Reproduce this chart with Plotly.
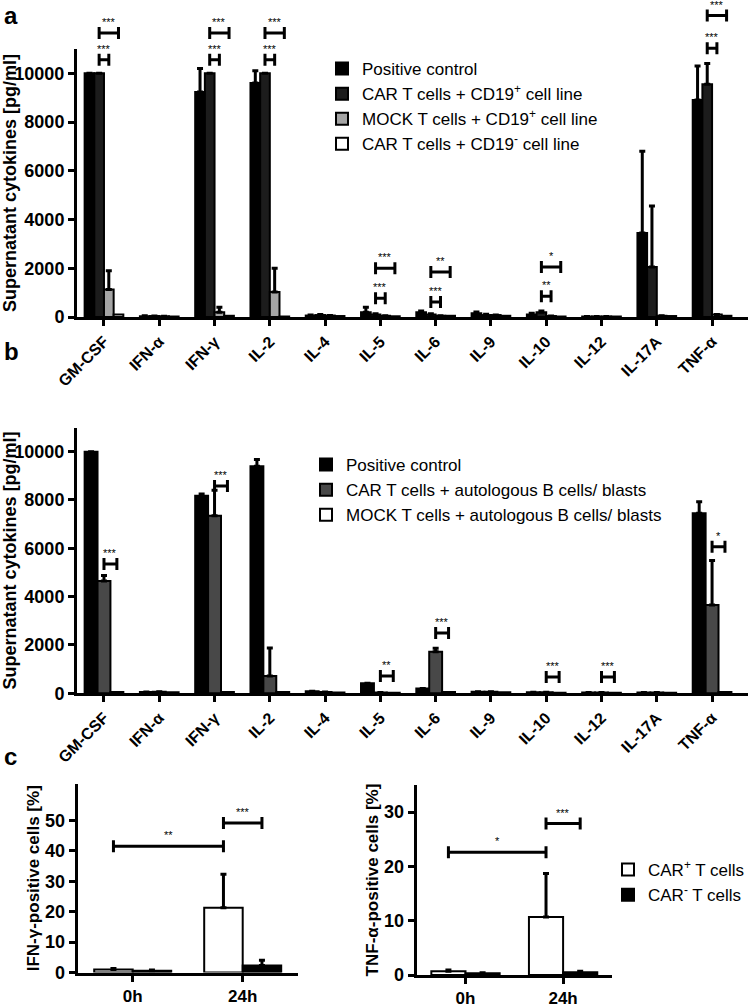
import plotly.graph_objects as go

W, H = 750, 1008
FONT = "Liberation Sans, Arial, sans-serif"

# ---------------- data ----------------
cytokines = ["GM-CSF", "IFN-α", "IFN-γ", "IL-2", "IL-4", "IL-5", "IL-6",
             "IL-9", "IL-10", "IL-12", "IL-17A", "TNF-α"]

# panel a
a_names = ["Positive control",
           "CAR T cells + CD19<sup>+</sup> cell line",
           "MOCK T cells + CD19<sup>+</sup> cell line",
           "CAR T cells + CD19<sup>-</sup> cell line"]
a_pos = [10000, 30, 9230, 9600, 60, 200, 200, 150, 100, 20, 3450, 8900]
a_pos_err = [None, 20, 970, 500, 20, 200, 50, 60, 50, None, 3350, 1400]
a_car = [10000, 40, 10000, 10000, 80, 100, 100, 80, 200, 20, 2050, 9550]
a_car_err = [None, None, None, None, 20, 30, 30, 30, 50, None, 2500, 850]
a_mock = [1130, 30, 200, 1030, 60, 50, 50, 80, 40, 20, 50, 100]
a_mock_err = [770, None, 200, 970, None, None, None, None, None, None, None, None]
a_neg = [100, 20, 50, 20, 40, 30, 50, 50, 20, 20, 40, 50]

# panel b
b_names = ["Positive control",
           "CAR T cells + autologous B cells/ blasts",
           "MOCK T cells + autologous B cells/ blasts"]
b_pos = [10000, 50, 8180, 9400, 80, 420, 200, 60, 40, 30, 30, 7450]
b_pos_err = [None, None, 70, 280, None, None, None, None, None, None, None, 480]
b_car = [4650, 60, 7350, 720, 50, 30, 1720, 60, 40, 30, 30, 3650]
b_car_err = [230, None, 1050, 1150, None, None, 140, None, None, None, None, 1850]
b_mock = [50, 40, 50, 50, 30, 20, 50, 40, 20, 20, 20, 50]

# panel c
timepoints = ["0h", "24h"]
c_names = ["CAR<sup>+</sup> T cells", "CAR<sup>-</sup> T cells"]
ifng_pos = [1.0, 21.3]
ifng_pos_err = [0.3, 11.0]
ifng_neg = [0.6, 2.3]
ifng_neg_err = [0.2, 1.7]
tnfa_pos = [0.7, 10.7]
tnfa_pos_err = [0.2, 8.0]
tnfa_neg = [0.3, 0.5]
tnfa_neg_err = [0.1, 0.2]

# significance: (group, bar_i, bar_j, y, label)
sig_a = [(0, 1, 2, 10550, "***"), (0, 1, 3, 11650, "***"),
         (2, 1, 2, 10550, "***"), (2, 1, 3, 11650, "***"),
         (3, 1, 2, 10550, "***"), (3, 1, 3, 11650, "***"),
         (5, 1, 2, 770, "***"), (5, 1, 3, 2000, "***"),
         (6, 1, 2, 620, "***"), (6, 1, 3, 1850, "**"),
         (8, 1, 2, 850, "**"), (8, 1, 3, 2050, "*"),
         (11, 1, 2, 11030, "***"), (11, 1, 3, 12370, "***")]
sig_b = [(0, 1, 2, 5350, "***"), (2, 1, 2, 8580, "***"),
         (5, 1, 2, 720, "**"), (6, 1, 2, 2500, "***"),
         (8, 1, 2, 670, "***"), (9, 1, 2, 670, "***"),
         (11, 1, 2, 6070, "*")]
# (group_i, bar_i, group_j, bar_j, y, label)
sig_c1 = [(0, 0, 1, 0, 41.5, "**"), (1, 0, 1, 1, 49.2, "***")]
sig_c2 = [(0, 0, 1, 0, 22.6, "*"), (1, 0, 1, 1, 27.9, "***")]

# ---------------- layout geometry (pixels) ----------------
BARGAP = 0.3
SUB = {
    "a": dict(x0=77, x1=748, top=48.9, bot=317.0, xr=(-0.488, 11.65), yr=(0, 11000)),
    "b": dict(x0=77, x1=748, top=427.5, bot=693.3, xr=(-0.488, 11.65), yr=(0, 11000)),
    "c1": dict(x0=77.7, x1=297.7, top=784, bot=972.5, xr=(-0.5, 1.5), yr=(0, 62)),
    "c2": dict(x0=416.7, x1=611.9, top=785, bot=975, xr=(-0.5, 1.5), yr=(0, 35)),
}


def dx(s, x):
    sp = SUB[s]
    f = (x - sp["xr"][0]) / (sp["xr"][1] - sp["xr"][0])
    return (sp["x0"] + f * (sp["x1"] - sp["x0"])) / W


def dy(s, y):
    sp = SUB[s]
    f = (y - sp["yr"][0]) / (sp["yr"][1] - sp["yr"][0])
    return 1 - (sp["bot"] - f * (sp["bot"] - sp["top"])) / H


def bar_x(group, j, n):
    w = (1 - BARGAP) / n
    return group - (1 - BARGAP) / 2 + (j + 0.5) * w


fig = go.Figure()


def add_bar(x, y, err, name, color, xa, ya, legend, show=True):
    e = None
    if err is not None:
        e = dict(type="data", symmetric=False, array=err,
                 arrayminus=[0 if v is not None else None for v in err],
                 color="black", thickness=3, width=3, visible=True)
    fig.add_trace(go.Bar(
        x=x, y=y, name=name, xaxis=xa, yaxis=ya, legend=legend, showlegend=show,
        marker=dict(color=color, line=dict(color="black", width=2)),
        error_y=e))


xs = list(range(len(cytokines)))
add_bar(xs, a_pos, a_pos_err, a_names[0], "#000000", "x", "y", "legend")
add_bar(xs, a_car, a_car_err, a_names[1], "#1c1c1c", "x", "y", "legend")
add_bar(xs, a_mock, a_mock_err, a_names[2], "#a5a5a5", "x", "y", "legend")
add_bar(xs, a_neg, None, a_names[3], "#ffffff", "x", "y", "legend")

add_bar(xs, b_pos, b_pos_err, b_names[0], "#000000", "x2", "y2", "legend2")
add_bar(xs, b_car, b_car_err, b_names[1], "#484848", "x2", "y2", "legend2")
add_bar(xs, b_mock, None, b_names[2], "#ffffff", "x2", "y2", "legend2")

xt = [0, 1]
add_bar(xt, ifng_pos, ifng_pos_err, c_names[0], "#ffffff", "x3", "y3", "legend3")
add_bar(xt, ifng_neg, ifng_neg_err, c_names[1], "#000000", "x3", "y3", "legend3")
add_bar(xt, tnfa_pos, tnfa_pos_err, c_names[0], "#ffffff", "x4", "y4", "legend3", False)
add_bar(xt, tnfa_neg, tnfa_neg_err, c_names[1], "#000000", "x4", "y4", "legend3", False)

shapes, annos = [], []
CAP = 6 / H


def bracket(s, xa_d, xb_d, y_d, label):
    xa, xb, y = dx(s, xa_d), dx(s, xb_d), dy(s, y_d)
    path = (f"M{xa},{y - CAP} L{xa},{y + CAP} M{xa},{y} L{xb},{y} "
            f"M{xb},{y - CAP} L{xb},{y + CAP}")
    shapes.append(dict(type="path", xref="paper", yref="paper", path=path,
                       line=dict(color="black", width=3)))
    annos.append(dict(xref="paper", yref="paper", x=(xa + xb) / 2, y=y + 3 / H,
                      text=label, showarrow=False, xanchor="center", yanchor="bottom",
                      font=dict(family=FONT, size=11, color="black")))


for g, i, j, y, lab in sig_a:
    bracket("a", bar_x(g, i, 4), bar_x(g, j, 4), y, lab)
for g, i, j, y, lab in sig_b:
    bracket("b", bar_x(g, i, 3), bar_x(g, j, 3), y, lab)
for gi, bi, gj, bj, y, lab in sig_c1:
    bracket("c1", bar_x(gi, bi, 2), bar_x(gj, bj, 2), y, lab)
for gi, bi, gj, bj, y, lab in sig_c2:
    bracket("c2", bar_x(gi, bi, 2), bar_x(gj, bj, 2), y, lab)

for lab, px, py in [("a", 2, 0), ("b", 2, 336), ("c", 2, 741)]:
    annos.append(dict(xref="paper", yref="paper", x=px / W, y=1 - py / H, text=lab,
                      showarrow=False, xanchor="left", yanchor="top",
                      font=dict(family=FONT, size=24, color="black", weight="bold")))

AXLINE = dict(showline=True, linecolor="black", linewidth=3, ticks="outside",
              ticklen=6, tickwidth=3, tickcolor="black", showgrid=False,
              zeroline=False, fixedrange=True, automargin=False)


def xaxis(s, tickvals, ticktext, angle, size, anchor):
    sp = SUB[s]
    return dict(AXLINE, domain=[sp["x0"] / W, sp["x1"] / W], range=list(sp["xr"]),
                tickmode="array", tickvals=tickvals, ticktext=ticktext, tickangle=angle,
                tickfont=dict(family=FONT, size=size, color="black", weight="bold"),
                anchor=anchor)


def yaxis(s, tickvals, title, tsize, anchor):
    sp = SUB[s]
    return dict(AXLINE, domain=[1 - sp["bot"] / H, 1 - sp["top"] / H], range=list(sp["yr"]),
                tickmode="array", tickvals=tickvals, ticktext=[str(v) for v in tickvals],
                tickfont=dict(family=FONT, size=18, color="black", weight="bold"),
                title=dict(text=title, standoff=2,
                           font=dict(family=FONT, size=tsize, color="black", weight="bold")),
                anchor=anchor)


cyto_ticks = [0, 2000, 4000, 6000, 8000, 10000]
ifng_ticks = [0, 10, 20, 30, 40, 50]
tnfa_ticks = [0, 10, 20, 30]

LEG = dict(xanchor="left", yanchor="top", bgcolor="rgba(0,0,0,0)",
           font=dict(family=FONT, size=17, color="black"), tracegroupgap=0)

fig.update_layout(
    width=W, height=H, autosize=False,
    margin=dict(l=0, r=0, t=0, b=0, autoexpand=False),
    paper_bgcolor="white", plot_bgcolor="white",
    barmode="group", bargap=BARGAP, bargroupgap=0,
    font=dict(family=FONT, color="black"),
    xaxis=xaxis("a", xs, cytokines, -45, 16, "y"),
    yaxis=yaxis("a", cyto_ticks, "Supernatant cytokines [pg/ml]", 18, "x"),
    xaxis2=xaxis("b", xs, cytokines, -45, 16, "y2"),
    yaxis2=yaxis("b", cyto_ticks, "Supernatant cytokines [pg/ml]", 18, "x2"),
    xaxis3=xaxis("c1", xt, timepoints, 0, 17, "y3"),
    yaxis3=yaxis("c1", ifng_ticks, "IFN-γ-positive cells [%]", 17, "x3"),
    xaxis4=xaxis("c2", xt, timepoints, 0, 17, "y4"),
    yaxis4=yaxis("c2", tnfa_ticks, "TNF-α-positive cells [%]", 17, "x4"),
    legend=dict(LEG, x=322 / W, y=1 - 51 / H),
    legend2=dict(LEG, x=306 / W, y=1 - 447 / H),
    legend3=dict(LEG, x=608 / W, y=1 - 852 / H),
    shapes=shapes, annotations=annos,
)

fig.write_html("out.html", config={"displayModeBar": False},
               post_script="document.body.style.margin='0px';document.body.style.padding='0px';")
